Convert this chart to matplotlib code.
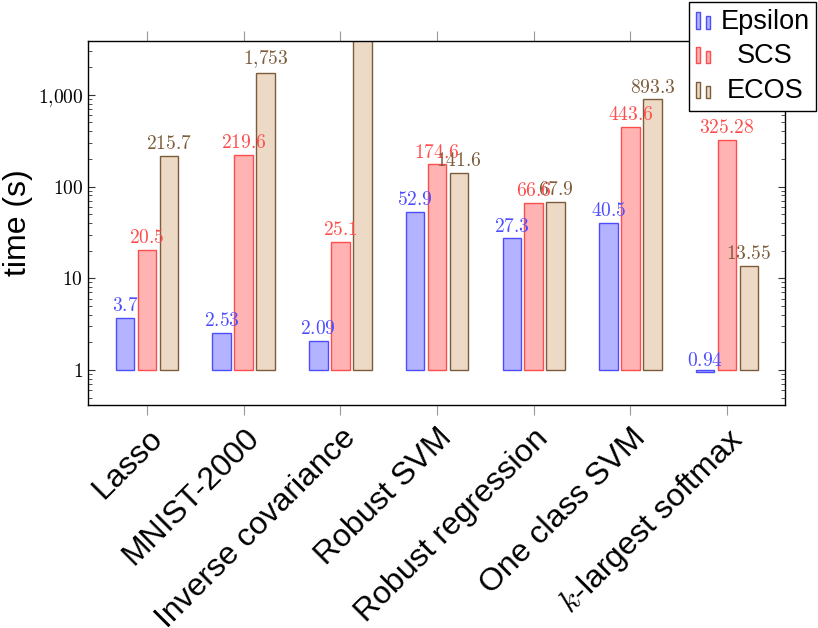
import numpy as np
import matplotlib.pyplot as plt
from matplotlib.patches import Rectangle
from matplotlib.legend_handler import HandlerBase
from matplotlib.ticker import FixedLocator, LogLocator, NullFormatter

plt.rcParams['mathtext.fontset'] = 'cm'
plt.rcParams['font.family'] = ['Liberation Sans', 'DejaVu Sans']

# Solve times (seconds) per problem
problems = ['Lasso', 'MNIST-2000', 'Inverse covariance', 'Robust SVM',
            'Robust regression', 'One class SVM', '$k$-largest softmax']
epsilon = [3.7, 2.53, 2.09, 52.9, 27.3, 40.5, 0.94]
scs = [20.5, 219.6, 25.1, 174.6, 66.6, 443.6, 325.28]
ecos = [215.7, 1753, 6000, 141.6, 67.9, 893.3, 13.55]

series = [
    ('Epsilon', epsilon, '#b3b3ff', '#4d4dff'),
    ('SCS', scs, '#ffb3b3', '#ff4d4d'),
    ('ECOS', ecos, '#ecd9c6', '#7d5c3c'),
]


def fmt(v):
    if v >= 1000:
        return r'$%s$' % f'{v:,.0f}'.replace(',', '{,}')
    return r'$%s$' % v


class TwoBarHandler(HandlerBase):
    # pgfplots-style legend image: two small bars side by side
    def create_artists(self, legend, orig, xdescent, ydescent, width, height,
                       fontsize, trans):
        fc = orig.get_facecolor()
        ec = orig.get_edgecolor()
        x0, y0 = -xdescent, -ydescent - 0.05 * height
        bw = 0.25 * width
        r1 = Rectangle((x0, y0), bw, 0.95 * height, fc=fc, ec=ec, lw=1.0,
                       transform=trans)
        r2 = Rectangle((x0 + 0.62 * width, y0), bw, 0.72 * height, fc=fc,
                       ec=ec, lw=1.0, transform=trans)
        return [r1, r2]


fig = plt.figure(figsize=(8.18, 6.28), dpi=100)
ax = fig.add_axes([0.1076, 0.3551, 0.8521, 0.5796])

x = np.arange(len(problems))
offset = 0.2275
width = 0.19
handles = []
for i, (name, vals, fc, ec) in enumerate(series):
    vals = np.array(vals, dtype=float)
    pos = x + (i - 1) * offset
    bars = ax.bar(pos, vals - 1, bottom=1, width=width, color=fc,
                  edgecolor=ec, linewidth=1.0, label=name, zorder=2)
    handles.append(bars[0])
    for px, v in zip(pos, vals):
        ax.annotate(fmt(v), (px, v), xytext=(0, 2), textcoords='offset points',
                    ha='center', va='bottom', color=ec, fontsize=14,
                    annotation_clip=True, zorder=3)

ax.set_yscale('log')
ax.set_ylim(0.415, 3870)
ax.set_xlim(-0.61, 6.6)

ax.yaxis.set_major_locator(FixedLocator([1, 10, 100, 1000]))
ax.set_yticklabels(['$1$', '$10$', '$100$', '$1{,}000$'], fontsize=14)
ax.yaxis.set_minor_locator(LogLocator(base=10, subs=np.arange(2, 10)))
ax.yaxis.set_minor_formatter(NullFormatter())
ax.tick_params(axis='y', which='both', direction='in', left=True, right=True,
               color='#333333')
ax.tick_params(axis='y', which='major', length=5, width=0.8)
ax.tick_params(axis='y', which='minor', length=3, width=0.6)

ax.set_xticks(x)
ax.set_xticklabels(problems, rotation=45, ha='right', rotation_mode='anchor',
                   fontsize=23)
ax.tick_params(axis='x', which='both', direction='out', top=True, bottom=True,
               length=7, width=0.8, color='#999999', pad=6)
ax.tick_params(axis='x', which='minor', top=False, bottom=False)

for s in ax.spines.values():
    s.set_linewidth(1.0)

ax.set_ylabel('time (s)', fontsize=23, labelpad=3)

leg = fig.legend(handles=handles, labels=[s[0] for s in series],
                 loc='upper right', bbox_to_anchor=(0.998, 0.997),
                 borderaxespad=0, fontsize=19.5, frameon=True, fancybox=False,
                 edgecolor='black', framealpha=1, handlelength=0.62,
                 handleheight=0.6, handletextpad=0.3, labelspacing=0.32,
                 borderpad=0.25,
                 handler_map={type(handles[0]): TwoBarHandler()})
leg.get_frame().set_linewidth(1.0)

# centre legend entries on the widest label
renderer = fig.canvas.get_renderer()
widths = [t.get_window_extent(renderer).width for t in leg.get_texts()]
widest = max(widths)
for t, w in zip(leg.get_texts(), widths):
    t.set_position(((widest - w) / 2, 0))

fig.savefig('out.png', dpi=100)
